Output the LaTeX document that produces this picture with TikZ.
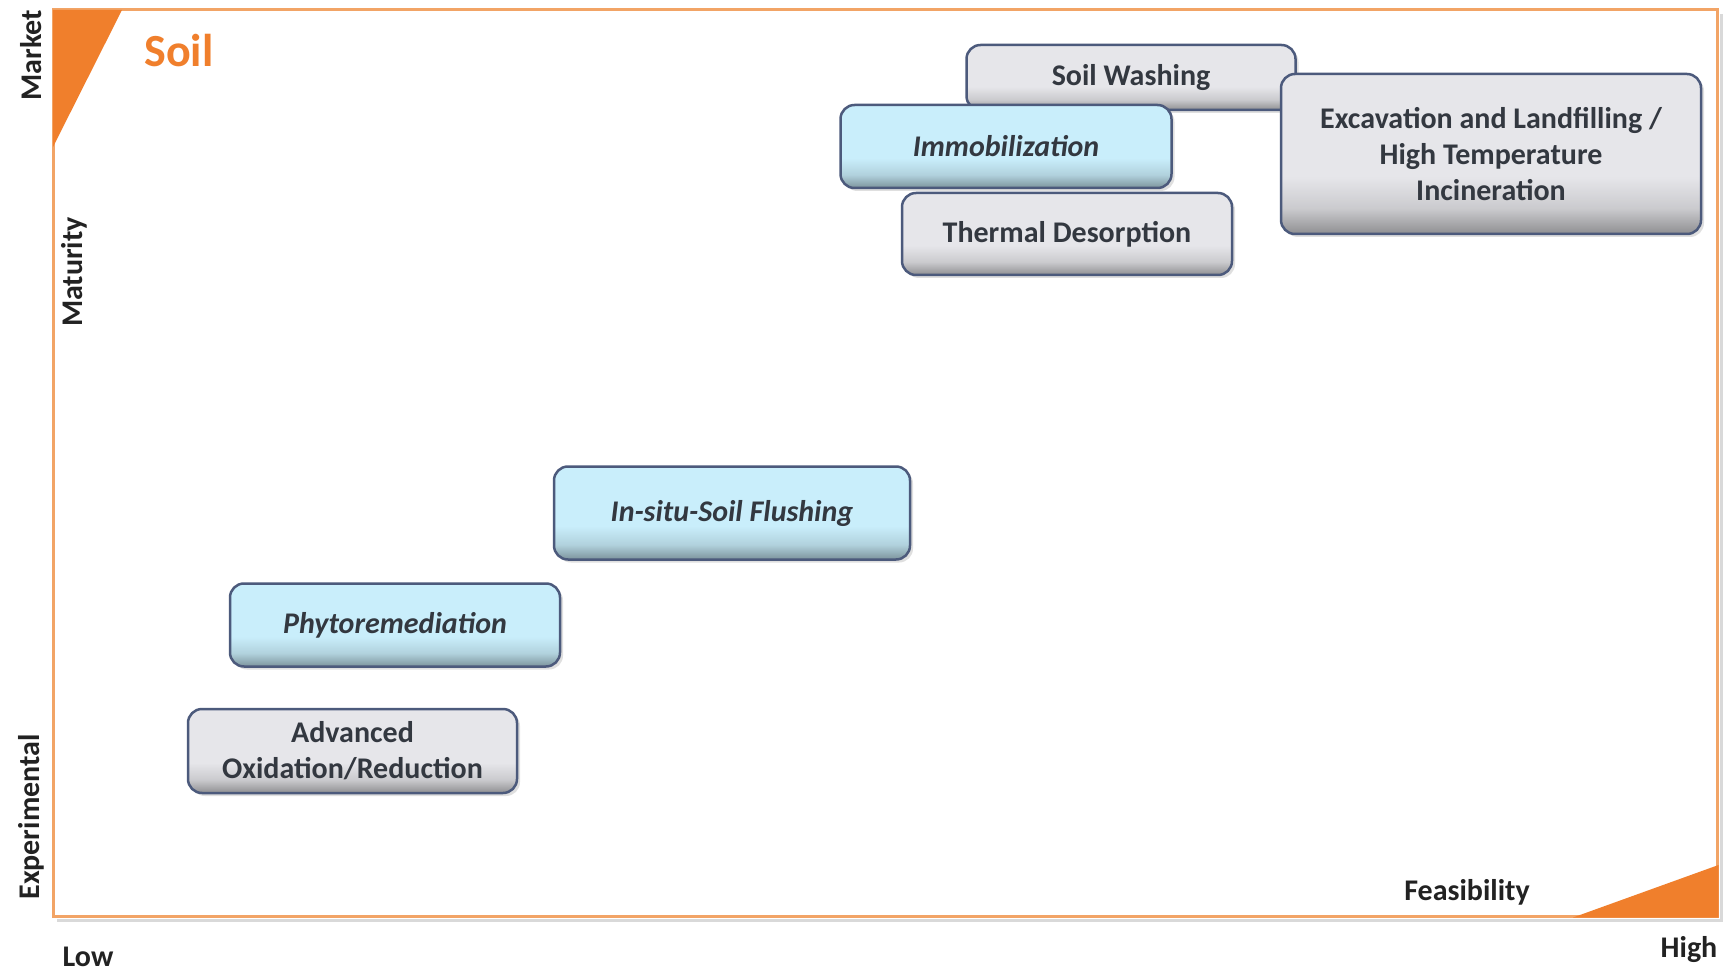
\documentclass[tikz,border=0pt]{standalone}
\usepackage{fontspec}
\setmainfont{Carlito}
\usepackage{tikz}
\usetikzlibrary{shadows}

\definecolor{soilorange}{HTML}{F07F2C}
\definecolor{frameorange}{HTML}{F2A466}
\definecolor{boxgray}{HTML}{E6E6EA}
\definecolor{boxblue}{HTML}{C9EEFB}
\definecolor{boxline}{HTML}{4C5A7C}
\definecolor{labeltext}{HTML}{222222}
\definecolor{boxtext}{HTML}{333840}

% darker band along the lower edge of the boxes
\pgfdeclareverticalshading{grayshade}{100bp}{color(0bp)=(boxgray!62!black); color(25bp)=(boxgray!62!black);
    color(33bp)=(boxgray!88!black); color(43bp)=(boxgray); color(100bp)=(boxgray)}
\pgfdeclareverticalshading{blueshade}{100bp}{color(0bp)=(boxblue!62!black); color(25bp)=(boxblue!62!black);
    color(33bp)=(boxblue!88!black); color(43bp)=(boxblue); color(100bp)=(boxblue)}

\begin{document}
\begin{tikzpicture}[
    x=1pt, y=-1pt,
    every node/.style={font=\fontsize{30}{36}\selectfont\bfseries, text=labeltext},
    box/.style={
        rectangle, draw=boxline, line width=2.5pt, rounded corners=14pt,
        align=center, inner sep=0pt, text=boxtext, shading=grayshade,
        drop shadow={opacity=0.25, shadow xshift=3pt, shadow yshift=-3pt}
    },
    bluebox/.style={
        box, shading=blueshade,
        font=\fontsize{30}{36}\selectfont\bfseries\itshape
    },
    axislabel/.style={rotate=90, anchor=center}
]
\useasboundingbox (0,0) rectangle (1731,973);
\fill[white] (0,0) rectangle (1731,973);

% Frame
\draw[black!15, line width=3pt] (57,920) -- (1721,920) -- (1721,14);
\draw[frameorange, line width=3pt] (53,10) rectangle (1717,916);
\fill[soilorange] (53,10) -- (122,10) -- (53,147) -- cycle;
\fill[soilorange] (1573,917.5) -- (1718.5,917.5) -- (1718.5,865) -- cycle;

% Labels
\node[font=\fontsize{46}{50}\selectfont\bfseries, text=soilorange] (title) at (179,51) {Soil};
\node[axislabel] (market) at (31,55) {Market};
\node[axislabel] (maturity) at (74,272) {Maturity};
\node[axislabel] (experimental) at (31,817) {Experimental};
\node[inner sep=1pt] (low) at (88,957) {Low};
\node (high) at (1689,950) {High};
\node (feasibility) at (1467,892) {Feasibility};

% Techniques
\node[box, minimum width=329pt, minimum height=65pt] (washing) at (1131,77.5) {Soil Washing};
\node[bluebox, minimum width=331pt, minimum height=83pt] (immob) at (1006,146.5) {Immobilization};
\node[box, minimum width=330pt, minimum height=82pt] (thermal) at (1067,234) {Thermal Desorption};
\node[box, minimum width=420pt, minimum height=160pt] (excav) at (1491,154) {Excavation and Landfilling /\\High Temperature\\Incineration};
\node[bluebox, minimum width=356pt, minimum height=93pt] (flushing) at (732,513) {In-situ-Soil Flushing};
\node[bluebox, minimum width=330pt, minimum height=83pt] (phyto) at (395,625) {Phytoremediation};
\node[box, minimum width=329pt, minimum height=84pt] (oxid) at (352.5,751) {Advanced\\Oxidation/Reduction};

\end{tikzpicture}
\end{document}
